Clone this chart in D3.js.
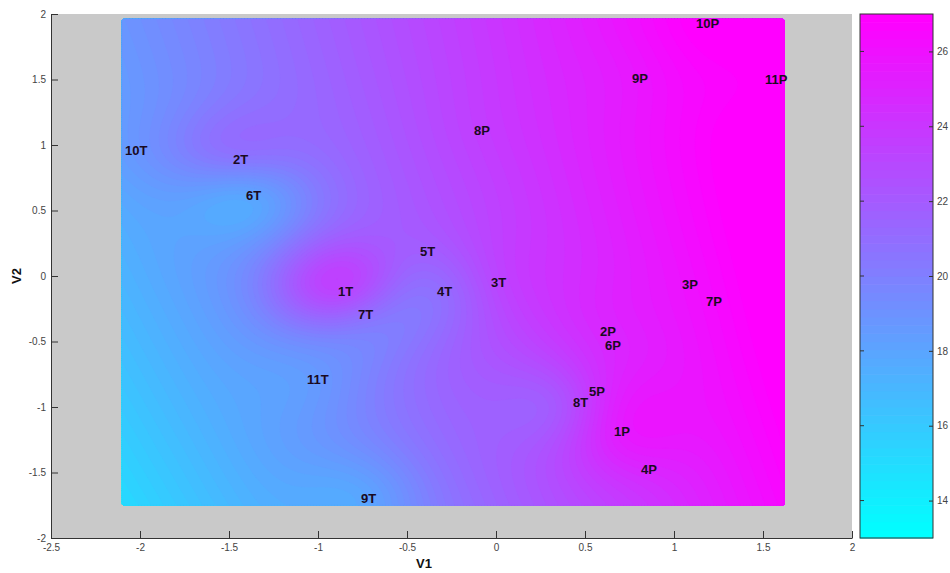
<!DOCTYPE html>
<html>
<head>
<meta charset="utf-8">
<script src="https://cdn.jsdelivr.net/npm/d3@7"></script>
<style>
  html, body { margin: 0; padding: 0; background: #fff; }
  svg { display: block; font-family: Arial, "Liberation Sans", sans-serif; }
</style>
</head>
<body>
<svg id="chart" width="950" height="573"></svg>
<script>
// ---------------- data ----------------
const pointLabels = ["1T","2T","3T","4T","5T","6T","7T","8T","9T","10T","11T",
                     "1P","2P","3P","4P","5P","6P","7P","8P","9P","10P","11P"];
const v1 = [-0.888,-1.478,-0.028,-0.331,-0.427,-1.405,-0.775, 0.433,-0.758,-2.084,-1.062,
             0.663, 0.584, 1.045, 0.815, 0.522, 0.612, 1.180,-0.124, 0.764, 1.124, 1.511];
const v2 = [-0.115, 0.893,-0.046,-0.115, 0.191, 0.618,-0.290,-0.962,-1.695, 0.962,-0.786,
            -1.183,-0.420,-0.061,-1.473,-0.878,-0.527,-0.191, 1.115, 1.511, 1.931, 1.504];
const zValue = [23.6, 20.6, 23.0, 20.8, 21.8, 17.8, 21.0, 22.6, 17.8, 18.6, 18.4,
                25.3, 24.8, 25.9, 24.8, 24.0, 24.6, 26.2, 23.5, 25.6, 27.0, 27.0];
const xTickValues = [-2.5,-2,-1.5,-1,-0.5,0,0.5,1,1.5,2];
const xTickLabels = ["-2.5","-2","-1.5","-1","-0.5","0","0.5","1","1.5","2"];
const yTickValues = [-2,-1.5,-1,-0.5,0,0.5,1,1.5,2];
const yTickLabels = ["-2","-1.5","-1","-0.5","0","0.5","1","1.5","2"];
const colorTicks = [14,16,18,20,22,24,26];
const colorDomain = [13, 27];
const surfaceX = [-2.1, 1.62];
const surfaceY = [-1.75, 1.96];

// ---------------- layout ----------------
const svg = d3.select("#chart");
const x = d3.scaleLinear().domain([-2.5, 2]).range([51, 852]);
const y = d3.scaleLinear().domain([-2, 2]).range([538, 14]);
const cb = {x0: 860, x1: 933};
const cy = d3.scaleLinear().domain(colorDomain).range([538, 14]);
const nLevels = 64;
const cool = t => `rgb(${Math.round(255*t)},${Math.round(255*(1-t))},255)`;

svg.append("rect")
  .attr("x", x(-2.5)).attr("y", y(2))
  .attr("width", x(2) - x(-2.5)).attr("height", y(-2) - y(2))
  .attr("fill", "#c9c9c9");

// ---------------- surface: damped quadratic trend + smoothed Gaussian RBF ----------------
function solve(M, b) {
  const m = M.length, A = M.map((r, i) => r.concat([b[i]]));
  for (let c = 0; c < m; c++) {
    let p = c;
    for (let r = c+1; r < m; r++) if (Math.abs(A[r][c]) > Math.abs(A[p][c])) p = r;
    [A[c], A[p]] = [A[p], A[c]];
    for (let r = 0; r < m; r++) {
      if (r === c) continue;
      const f = A[r][c] / A[c][c];
      for (let k = c; k <= m; k++) A[r][k] -= f * A[c][k];
    }
  }
  return A.map((row, i) => row[m] / row[i]);
}
const n = v1.length;
const basisAt = (px, py) => [1, px, py, px*px, px*py, py*py];
const nb = 6;
const N = d3.range(nb).map(() => d3.range(nb).map(() => 0)), Nb = d3.range(nb).map(() => 0);
for (let i = 0; i < n; i++) {
  const bi = basisAt(v1[i], v2[i]);
  for (let a = 0; a < nb; a++) {
    Nb[a] += bi[a] * zValue[i];
    for (let c = 0; c < nb; c++) N[a][c] += bi[a] * bi[c];
  }
}
for (let a = 3; a < nb; a++) N[a][a] += 40;
const coef = solve(N, Nb);
const trend = (px, py) => d3.sum(basisAt(px, py), (b, k) => b * coef[k]);
const sigma = 0.36, lambda = 0.08;
const kern = r => Math.exp(-(r*r) / (sigma*sigma));
const K = [];
for (let i = 0; i < n; i++) {
  K.push([]);
  for (let j = 0; j < n; j++) K[i].push(kern(Math.hypot(v1[i]-v1[j], v2[i]-v2[j])) + (i === j ? lambda : 0));
}
const resid = zValue.map((z, i) => z - trend(v1[i], v2[i]));
const w = solve(K, resid);
const field = (px, py) => {
  let s = trend(px, py);
  for (let j = 0; j < n; j++) s += w[j] * kern(Math.hypot(px - v1[j], py - v2[j]));
  return s;
};

const nx = 220, ny = 220;
const grid = new Float64Array(nx * ny);
for (let j = 0; j < ny; j++) {
  const py = surfaceY[1] - (j + 0.5) * (surfaceY[1] - surfaceY[0]) / ny;
  for (let i = 0; i < nx; i++) {
    const px = surfaceX[0] + (i + 0.5) * (surfaceX[1] - surfaceX[0]) / nx;
    grid[j*nx + i] = Math.max(colorDomain[0], Math.min(colorDomain[1], field(px, py)));
  }
}
const thresholds = d3.range(nLevels).map(k => colorDomain[0] + k * (colorDomain[1]-colorDomain[0]) / nLevels);
const contours = d3.contours().size([nx, ny]).thresholds(thresholds)(grid);
const proj = d3.geoTransform({
  point: function(gx, gy) {
    this.stream.point(
      x(surfaceX[0] + gx / nx * (surfaceX[1]-surfaceX[0])),
      y(surfaceY[1] - gy / ny * (surfaceY[1]-surfaceY[0])));
  }
});
const path = d3.geoPath(proj);
svg.append("g").selectAll("path").data(contours).join("path")
  .attr("d", path)
  .attr("fill", (d, i) => cool(i / (nLevels - 1)))
  .attr("stroke", (d, i) => cool(i / (nLevels - 1)))
  .attr("stroke-width", 0.6);

// ---------------- axes ----------------
const xAxis = d3.axisBottom(x).tickValues(xTickValues)
  .tickFormat((d, i) => xTickLabels[i]).tickSizeInner(-7).tickSizeOuter(0).tickPadding(6);
const yAxis = d3.axisLeft(y).tickValues(yTickValues)
  .tickFormat((d, i) => yTickLabels[i]).tickSizeInner(-7).tickSizeOuter(0).tickPadding(5);
const gx = svg.append("g").attr("transform", `translate(0,${y(-2)})`).call(xAxis);
const gy = svg.append("g").attr("transform", `translate(${x(-2.5)},0)`).call(yAxis);
[gx, gy].forEach(g => {
  g.select(".domain").attr("stroke", "#333");
  g.selectAll(".tick line").attr("stroke", "#333");
  g.selectAll(".tick text").attr("fill", "#444").attr("font-size", 10)
    .attr("font-family", "Arial, 'Liberation Sans', sans-serif");
});

svg.append("text").attr("x", 424).attr("y", 568).attr("text-anchor", "middle")
  .attr("font-weight", "bold").attr("font-size", 13).attr("fill", "#111").text("V1");
svg.append("text").attr("transform", "translate(21,276) rotate(-90)").attr("text-anchor", "middle")
  .attr("font-weight", "bold").attr("font-size", 13).attr("fill", "#111").text("V2");

// ---------------- point labels ----------------
svg.append("g").selectAll("text").data(pointLabels).join("text")
  .attr("x", (d, i) => x(v1[i]))
  .attr("y", (d, i) => y(v2[i]))
  .attr("dy", "0.36em")
  .attr("font-weight", "bold").attr("font-size", 13)
  .attr("fill", "#1a0a22")
  .text(d => d);

// ---------------- colorbar ----------------
const bands = d3.range(nLevels);
const bandH = (cy(colorDomain[0]) - cy(colorDomain[1])) / nLevels;
svg.append("g").selectAll("rect").data(bands).join("rect")
  .attr("x", cb.x0).attr("width", cb.x1 - cb.x0)
  .attr("y", k => cy(colorDomain[0] + (k + 1) * (colorDomain[1]-colorDomain[0]) / nLevels))
  .attr("height", bandH + 0.6)
  .attr("fill", k => cool(k / (nLevels - 1)));
svg.append("rect").attr("x", cb.x0).attr("y", cy(colorDomain[1]))
  .attr("width", cb.x1 - cb.x0).attr("height", cy(colorDomain[0]) - cy(colorDomain[1]))
  .attr("fill", "none").attr("stroke", "#333").attr("stroke-width", 1);
const cbAxis = d3.axisRight(cy).tickValues(colorTicks).tickSizeInner(-4).tickSizeOuter(0).tickPadding(4);
const gc = svg.append("g").attr("transform", `translate(${cb.x1},0)`).call(cbAxis);
gc.select(".domain").remove();
gc.selectAll(".tick line").attr("stroke", "#333");
gc.selectAll(".tick text").attr("fill", "#444").attr("font-size", 10)
  .attr("font-family", "Arial, 'Liberation Sans', sans-serif");
svg.append("g").selectAll("line").data(colorTicks).join("line")
  .attr("x1", cb.x0).attr("x2", cb.x0 + 4)
  .attr("y1", d => cy(d)).attr("y2", d => cy(d))
  .attr("stroke", "#333");
</script>
</body>
</html>
